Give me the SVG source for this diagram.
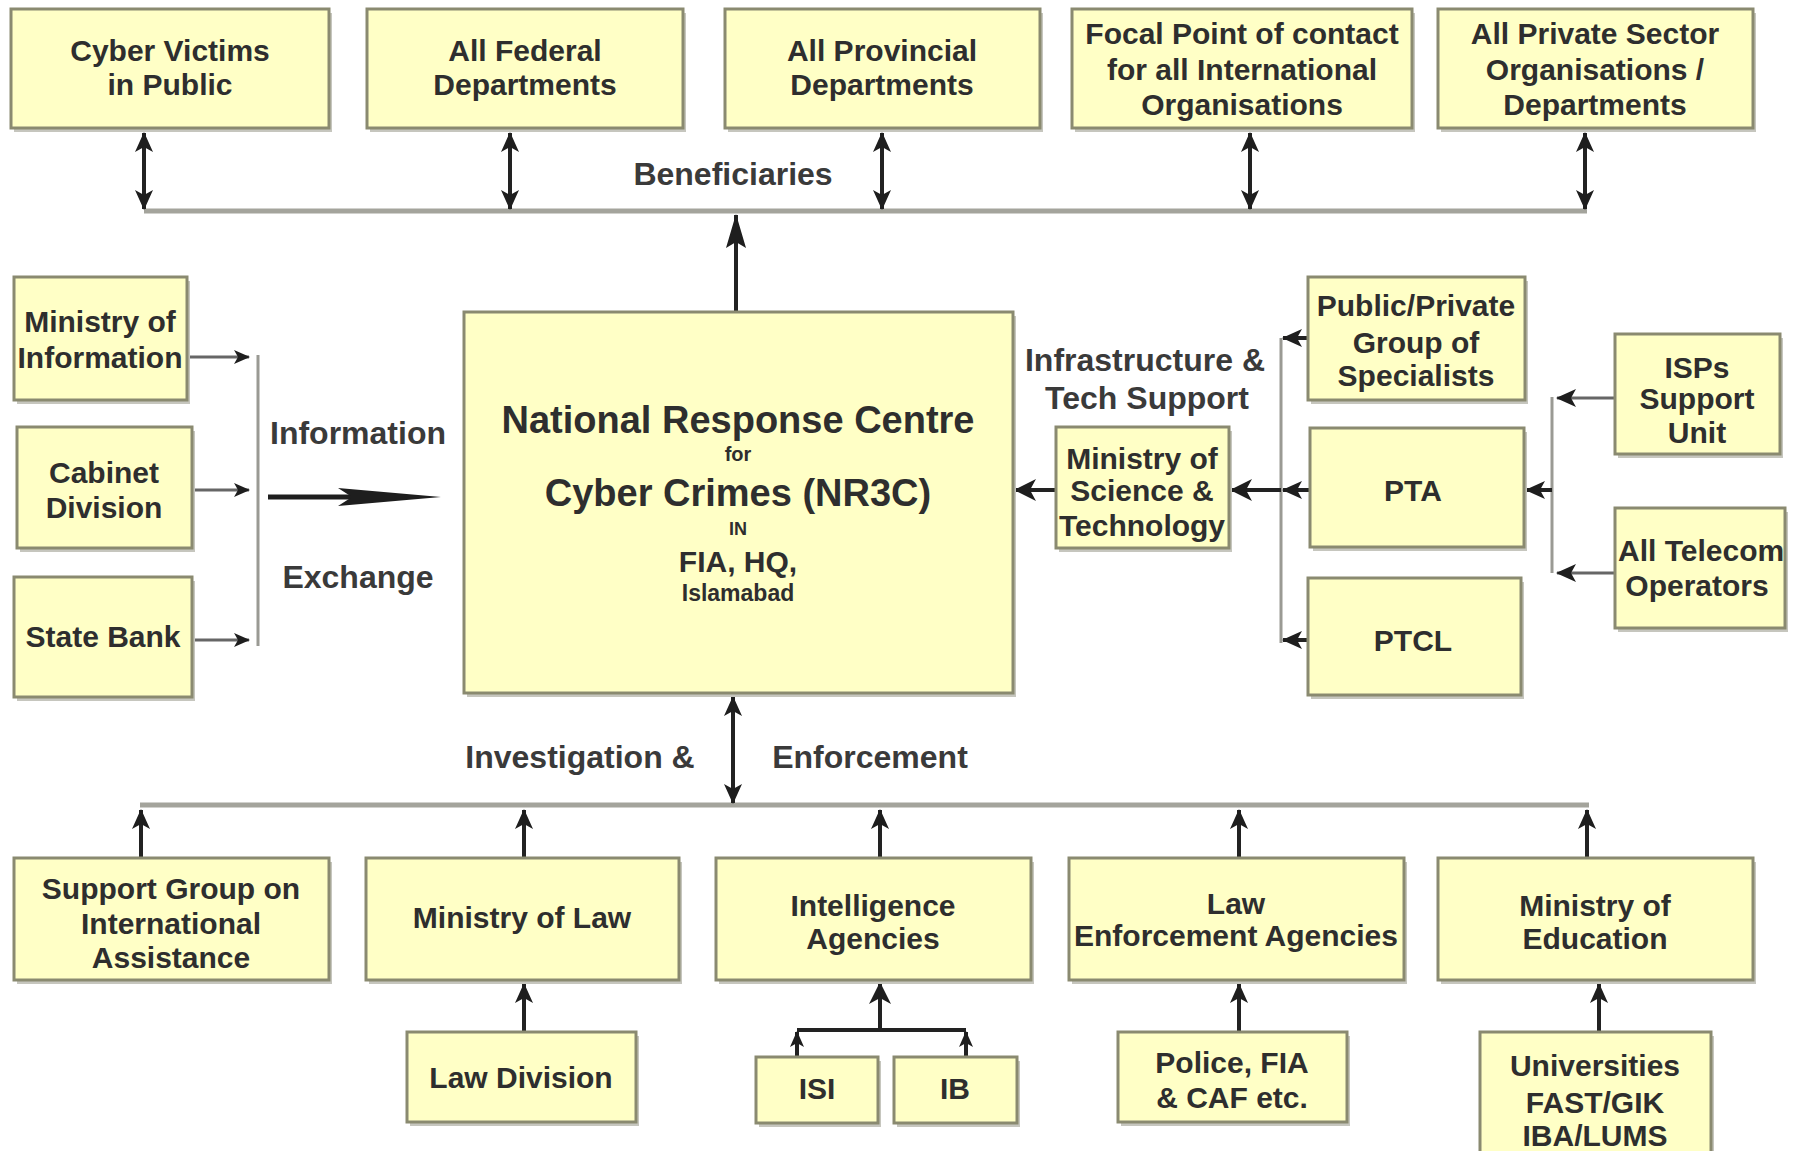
<svg xmlns="http://www.w3.org/2000/svg" width="1797" height="1151" viewBox="0 0 1797 1151">
<style>
.sh{fill:#c6c6be}
.box{fill:#ffffc6;stroke:#8a8a70;stroke-width:3}
.t{font-family:"Liberation Sans",Arial,sans-serif;font-weight:bold;font-size:30px;fill:#2e2e2e;text-anchor:middle}
.lbl{font-family:"Liberation Sans",Arial,sans-serif;font-weight:bold;font-size:32px;fill:#3a3a3a;text-anchor:middle}
.bus{fill:none;stroke:#a4a49c;stroke-width:5}
.vl{fill:none;stroke:#9a9a94;stroke-width:3}
.ar{fill:none;stroke:#222;stroke-width:4}
.ga{fill:none;stroke:#666;stroke-width:3}
</style>
<defs>
<marker id="ah" viewBox="0 0 20 18" markerWidth="20" markerHeight="18" refX="19" refY="9" orient="auto-start-reverse" markerUnits="userSpaceOnUse"><path d="M0,0 L20,9 L0,18 L5,9 z" fill="#1e1e1e"/></marker>
<marker id="ahs" viewBox="0 0 16 14" markerWidth="16" markerHeight="14" refX="15" refY="7" orient="auto-start-reverse" markerUnits="userSpaceOnUse"><path d="M0,0 L16,7 L0,14 L4,7 z" fill="#1e1e1e"/></marker>
<marker id="ahm" viewBox="0 0 22 22" markerWidth="22" markerHeight="22" refX="21" refY="11" orient="auto-start-reverse" markerUnits="userSpaceOnUse"><path d="M0,0 L22,11 L0,22 L6,11 z" fill="#1e1e1e"/></marker>
<marker id="ahb" viewBox="0 0 34 20" markerWidth="34" markerHeight="20" refX="33" refY="10" orient="auto" markerUnits="userSpaceOnUse"><path d="M0,0 L34,10 L0,20 L6,10 z" fill="#1e1e1e"/></marker>
</defs>
<rect width="1797" height="1151" fill="#ffffff"/>

<g id="connectors">
<path class="bus" d="M144,211 H1587"/>
<path class="ar" d="M144,133 V209" stroke-width="5" marker-start="url(#ah)" marker-end="url(#ah)"/>
<path class="ar" d="M510,133 V209" stroke-width="5" marker-start="url(#ah)" marker-end="url(#ah)"/>
<path class="ar" d="M882,133 V209" stroke-width="5" marker-start="url(#ah)" marker-end="url(#ah)"/>
<path class="ar" d="M1250,133 V209" stroke-width="5" marker-start="url(#ah)" marker-end="url(#ah)"/>
<path class="ar" d="M1585,133 V209" stroke-width="5" marker-start="url(#ah)" marker-end="url(#ah)"/>
<path class="ar" d="M736,312 V215" stroke-width="5" marker-end="url(#ahb)"/>

<path class="vl" d="M258,355 V646"/>
<path class="ga" d="M187,357 H249" marker-end="url(#ahs)"/>
<path class="ga" d="M192,490 H249" stroke="#333" marker-end="url(#ahs)"/>
<path class="ga" d="M192,640 H249" marker-end="url(#ahs)"/>
<path d="M268,497 H360" fill="none" stroke="#1e1e1e" stroke-width="5"/>
<polygon points="338,488 441,497 338,506 352,497" fill="#1e1e1e"/>

<path class="vl" d="M1281,338 V643"/>
<path class="ar" d="M1056,490 H1015" marker-end="url(#ahm)"/>
<path class="ar" d="M1281,490 H1231" stroke-width="6" marker-end="url(#ahm)"/>
<path class="ar" d="M1308,338 H1283" marker-end="url(#ah)"/>
<path class="ar" d="M1310,490 H1283" marker-end="url(#ah)"/>
<path class="ar" d="M1308,640 H1283" marker-end="url(#ah)"/>
<path class="vl" d="M1552,397 V573"/>
<path class="ga" d="M1615,398 H1557" marker-end="url(#ah)"/>
<path class="ga" d="M1615,573 H1557" marker-end="url(#ah)"/>
<path class="ar" d="M1552,490 H1526" marker-end="url(#ah)"/>

<path class="bus" d="M140,805 H1589"/>
<path class="ar" d="M733,697 V803" stroke-width="3" marker-start="url(#ah)" marker-end="url(#ah)"/>
<path class="ar" d="M141,857 V810" stroke="#444" marker-end="url(#ah)"/>
<path class="ar" d="M524,857 V810" stroke="#444" marker-end="url(#ah)"/>
<path class="ar" d="M880,857 V810" stroke="#444" marker-end="url(#ah)"/>
<path class="ar" d="M1239,857 V810" stroke="#444" marker-end="url(#ah)"/>
<path class="ar" d="M1587,857 V810" stroke="#444" marker-end="url(#ah)"/>

<path class="ar" d="M524,1032 V984" stroke="#444" marker-end="url(#ah)"/>
<path class="ar" d="M797,1030 H966" stroke="#555"/>
<path class="ar" d="M797,1057 V1032" stroke="#555" stroke-width="3" marker-end="url(#ahs)"/>
<path class="ar" d="M966,1057 V1032" stroke="#555" stroke-width="3" marker-end="url(#ahs)"/>
<path class="ar" d="M880,1030 V983" stroke-width="5" marker-end="url(#ahm)"/>
<path class="ar" d="M1239,1032 V984" stroke="#444" marker-end="url(#ah)"/>
<path class="ar" d="M1599,1032 V984" stroke="#444" marker-end="url(#ah)"/>
</g>

<g id="labels">
<text class="lbl" x="733" y="185">Beneficiaries</text>
<text class="lbl" x="358" y="444">Information</text>
<text class="lbl" x="358" y="588">Exchange</text>
<text class="lbl" x="1145" y="371">Infrastructure &amp;</text>
<text class="lbl" x="1147" y="409">Tech Support</text>
<text class="lbl" x="580" y="768">Investigation &amp;</text>
<text class="lbl" x="870" y="768">Enforcement</text>
</g>

<g id="n_victims"><rect class="sh" x="14" y="13" width="318" height="119"/><rect class="box" x="11" y="9" width="318" height="119"/><text class="t"><tspan x="170" y="61">Cyber Victims</tspan><tspan x="170" y="95">in Public</tspan></text></g>
<g id="n_federal"><rect class="sh" x="370" y="13" width="316" height="119"/><rect class="box" x="367" y="9" width="316" height="119"/><text class="t"><tspan x="525" y="61">All Federal</tspan><tspan x="525" y="95">Departments</tspan></text></g>
<g id="n_provincial"><rect class="sh" x="728" y="13" width="315" height="119"/><rect class="box" x="725" y="9" width="315" height="119"/><text class="t"><tspan x="882" y="61">All Provincial</tspan><tspan x="882" y="95">Departments</tspan></text></g>
<g id="n_focal"><rect class="sh" x="1075" y="13" width="340" height="119"/><rect class="box" x="1072" y="9" width="340" height="119"/><text class="t"><tspan x="1242" y="44">Focal Point of contact</tspan><tspan x="1242" y="80">for all International</tspan><tspan x="1242" y="115">Organisations</tspan></text></g>
<g id="n_private"><rect class="sh" x="1441" y="13" width="315" height="119"/><rect class="box" x="1438" y="9" width="315" height="119"/><text class="t"><tspan x="1595" y="44">All Private Sector</tspan><tspan x="1595" y="80">Organisations /</tspan><tspan x="1595" y="115">Departments</tspan></text></g>

<g id="n_nr3c"><rect class="sh" x="467" y="316" width="549" height="381"/><rect class="box" x="464" y="312" width="549" height="381"/>
<text class="t" x="738" y="433" style="font-size:38px">National Response Centre</text>
<text class="t" x="738" y="461" style="font-size:20px">for</text>
<text class="t" x="738" y="506" style="font-size:38px">Cyber Crimes (NR3C)</text>
<text class="t" x="738" y="535" style="font-size:18px">IN</text>
<text class="t" x="738" y="572" style="font-size:30px">FIA, HQ,</text>
<text class="t" x="738" y="601" style="font-size:23px">Islamabad</text></g>

<g id="n_moi"><rect class="sh" x="17" y="281" width="173" height="123"/><rect class="box" x="14" y="277" width="173" height="123"/><text class="t"><tspan x="100" y="332">Ministry of</tspan><tspan x="100" y="368">Information</tspan></text></g>
<g id="n_cabinet"><rect class="sh" x="20" y="431" width="175" height="121"/><rect class="box" x="17" y="427" width="175" height="121"/><text class="t"><tspan x="104" y="483">Cabinet</tspan><tspan x="104" y="518">Division</tspan></text></g>
<g id="n_statebank"><rect class="sh" x="17" y="581" width="178" height="120"/><rect class="box" x="14" y="577" width="178" height="120"/><text class="t"><tspan x="103" y="647">State Bank</tspan></text></g>

<g id="n_most"><rect class="sh" x="1059" y="431" width="173" height="121"/><rect class="box" x="1056" y="427" width="173" height="121"/><text class="t"><tspan x="1142" y="469">Ministry of</tspan><tspan x="1142" y="501">Science &amp;</tspan><tspan x="1142" y="536">Technology</tspan></text></g>
<g id="n_ppg"><rect class="sh" x="1311" y="281" width="217" height="123"/><rect class="box" x="1308" y="277" width="217" height="123"/><text class="t"><tspan x="1416" y="316">Public/Private</tspan><tspan x="1416" y="353">Group of</tspan><tspan x="1416" y="386">Specialists</tspan></text></g>
<g id="n_pta"><rect class="sh" x="1313" y="432" width="214" height="119"/><rect class="box" x="1310" y="428" width="214" height="119"/><text class="t"><tspan x="1413" y="501">PTA</tspan></text></g>
<g id="n_ptcl"><rect class="sh" x="1311" y="582" width="213" height="117"/><rect class="box" x="1308" y="578" width="213" height="117"/><text class="t"><tspan x="1413" y="651">PTCL</tspan></text></g>
<g id="n_isp"><rect class="sh" x="1618" y="338" width="165" height="120"/><rect class="box" x="1615" y="334" width="165" height="120"/><text class="t"><tspan x="1697" y="378">ISPs</tspan><tspan x="1697" y="409">Support</tspan><tspan x="1697" y="443">Unit</tspan></text></g>
<g id="n_telecom"><rect class="sh" x="1618" y="512" width="170" height="120"/><rect class="box" x="1615" y="508" width="170" height="120"/><text class="t"><tspan x="1618" y="561" text-anchor="start">All Telecom</tspan><tspan x="1697" y="596">Operators</tspan></text></g>

<g id="n_support"><rect class="sh" x="17" y="862" width="315" height="122"/><rect class="box" x="14" y="858" width="315" height="122"/><text class="t"><tspan x="171" y="899">Support Group on</tspan><tspan x="171" y="934">International</tspan><tspan x="171" y="968">Assistance</tspan></text></g>
<g id="n_mol"><rect class="sh" x="369" y="862" width="313" height="122"/><rect class="box" x="366" y="858" width="313" height="122"/><text class="t"><tspan x="522" y="928">Ministry of Law</tspan></text></g>
<g id="n_intel"><rect class="sh" x="719" y="862" width="315" height="122"/><rect class="box" x="716" y="858" width="315" height="122"/><text class="t"><tspan x="873" y="916">Intelligence</tspan><tspan x="873" y="949">Agencies</tspan></text></g>
<g id="n_lea"><rect class="sh" x="1072" y="862" width="335" height="122"/><rect class="box" x="1069" y="858" width="335" height="122"/><text class="t"><tspan x="1236" y="914">Law</tspan><tspan x="1236" y="946">Enforcement Agencies</tspan></text></g>
<g id="n_moe"><rect class="sh" x="1441" y="862" width="315" height="122"/><rect class="box" x="1438" y="858" width="315" height="122"/><text class="t"><tspan x="1595" y="916">Ministry of</tspan><tspan x="1595" y="949">Education</tspan></text></g>

<g id="n_lawdiv"><rect class="sh" x="410" y="1036" width="229" height="90"/><rect class="box" x="407" y="1032" width="229" height="90"/><text class="t"><tspan x="521" y="1088">Law Division</tspan></text></g>
<g id="n_isi"><rect class="sh" x="759" y="1061" width="122" height="66"/><rect class="box" x="756" y="1057" width="122" height="66"/><text class="t"><tspan x="817" y="1099">ISI</tspan></text></g>
<g id="n_ib"><rect class="sh" x="897" y="1061" width="123" height="66"/><rect class="box" x="894" y="1057" width="123" height="66"/><text class="t"><tspan x="955" y="1099">IB</tspan></text></g>
<g id="n_police"><rect class="sh" x="1121" y="1036" width="229" height="90"/><rect class="box" x="1118" y="1032" width="229" height="90"/><text class="t"><tspan x="1232" y="1073">Police, FIA</tspan><tspan x="1232" y="1108">&amp; CAF etc.</tspan></text></g>
<g id="n_univ"><rect class="sh" x="1483" y="1036" width="231" height="140"/><rect class="box" x="1480" y="1032" width="231" height="140"/><text class="t"><tspan x="1595" y="1076">Universities</tspan><tspan x="1595" y="1113">FAST/GIK</tspan><tspan x="1595" y="1146">IBA/LUMS</tspan></text></g>
</svg>
